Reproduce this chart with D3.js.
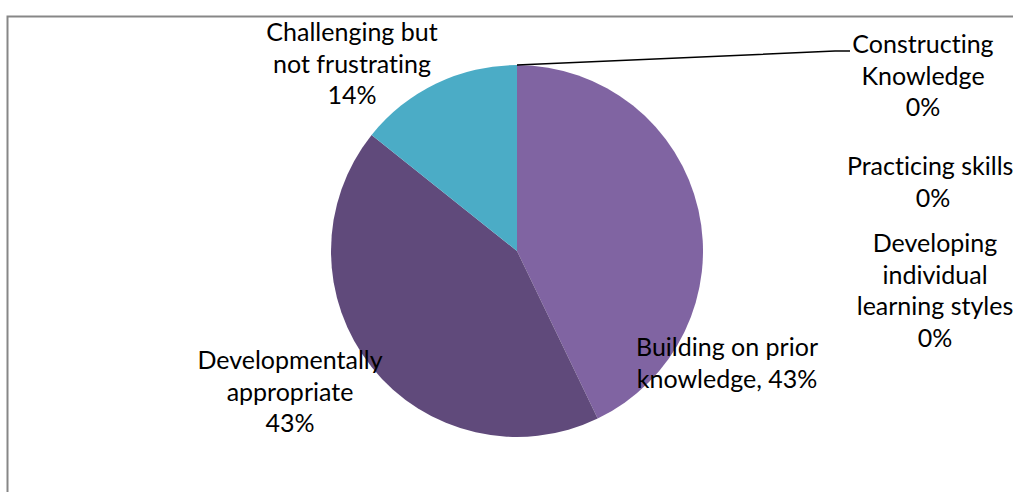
<!DOCTYPE html>
<html>
<head>
<meta charset="utf-8">
<script src="https://cdn.jsdelivr.net/npm/d3@7"></script>
<style>
  html, body { margin: 0; padding: 0; background: #fff; }
  svg { display: block; }
  text { font-family: Lato, "Open Sans", sans-serif; fill: #000; font-variant-ligatures: none; font-feature-settings: "liga" 0; }
</style>
</head>
<body>
<svg id="chart" width="1013" height="492"></svg>
<script>
// Slice categories in drawing order (clockwise from 12 o'clock)
const categories = [
  "Building on prior knowledge",
  "Developmentally appropriate",
  "Challenging but not frustrating",
  "Constructing Knowledge",
  "Practicing skills",
  "Developing individual learning styles"
];
// Response counts per category
const counts = [3, 3, 1, 0, 0, 0];
// Slice fills
const sliceColors = ["#8064A2", "#604A7B", "#4BACC6", "#9BBB59", "#F79646", "#2C4D75"];
// Label text lines (the percentage is appended from the data)
const labelLines = [
  ["Building on prior", "knowledge, {p}"],
  ["Developmentally", "appropriate", "{p}"],
  ["Challenging but", "not frustrating", "{p}"],
  ["Constructing", "Knowledge", "{p}"],
  ["Practicing skills,", "{p}"],
  ["Developing", "individual", "learning styles", "{p}"]
];

const svg = d3.select("#chart");
const W = 1013, H = 492;

// chart frame
svg.append("path")
  .attr("d", `M${W + 5},16.5 H7.5 V${H + 5}`)
  .attr("fill", "none")
  .attr("stroke", "#878787")
  .attr("stroke-width", 2);

const cx = 517, cy = 251, R = 186;
const total = d3.sum(counts);
const fmt = d3.format(".0%");

const pie = d3.pie().sort(null).value(d => d)(counts);
const arc = d3.arc().innerRadius(0).outerRadius(R);

const g = svg.append("g").attr("transform", `translate(${cx},${cy})`);
g.selectAll("path.slice")
  .data(pie)
  .join("path")
  .attr("class", "slice")
  .attr("d", arc)
  .attr("fill", (d, i) => sliceColors[i]);

// label anchors (centre x, first baseline) relative to the pie centre
const labelLayout = [
  { dx: 210, dy: 105 },
  { dx: -227, dy: 118 },
  { dx: -165, dy: -210 },
  { dx: 406, dy: -198 },
  { dx: 416, dy: -76 },
  { dx: 418, dy: 1 }
];
const lineH = 31.5;

pie.forEach((d, i) => {
  const pct = fmt(counts[i] / total);
  const L = labelLayout[i];
  const t = g.append("text")
    .attr("text-anchor", "middle")
    .attr("font-size", 25)
    .attr("x", L.dx)
    .attr("y", L.dy);
  labelLines[i].forEach((line, k) => {
    t.append("tspan")
      .attr("x", L.dx)
      .attr("dy", k === 0 ? 0 : lineH)
      .text(line.replace("{p}", pct));
  });
});

// leader line from the zero-width slice at the top to its label
const ck = pie[3];
const [sx, sy] = [R * Math.sin(ck.startAngle), -R * Math.cos(ck.startAngle)];
g.append("polyline")
  .attr("points", `${sx},${sy} ${318},${-200} ${333},${-200}`)
  .attr("fill", "none")
  .attr("stroke", "#000")
  .attr("stroke-width", 1.5);
</script>
</body>
</html>
